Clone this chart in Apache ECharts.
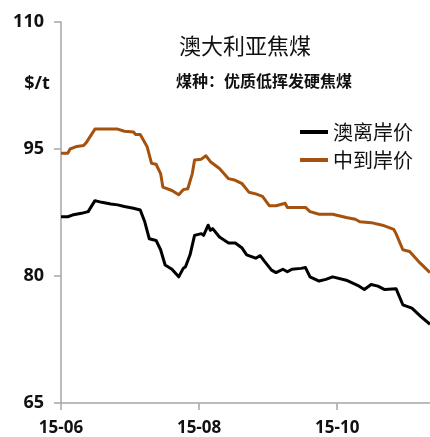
<!DOCTYPE html>
<html><head><meta charset="utf-8">
<script src="https://cdn.jsdelivr.net/npm/echarts@6/dist/echarts.min.js"></script>
<style>html,body{margin:0;padding:0;background:#fff}#c{width:430px;height:437px}</style>
</head><body><div id="c"></div><script>
// 澳离岸价 (FOB Australia), $/t
const fobDates = ['2015-06-01','2015-06-04','2015-06-06','2015-06-10','2015-06-13','2015-06-16','2015-06-19','2015-06-23','2015-06-26','2015-06-29',
  '2015-07-03','2015-07-06','2015-07-08','2015-07-10','2015-07-13','2015-07-15','2015-07-17','2015-07-20','2015-07-23','2015-07-25','2015-07-26','2015-07-28','2015-07-30',
  '2015-08-02','2015-08-03','2015-08-05','2015-08-06','2015-08-07','2015-08-10','2015-08-14','2015-08-17','2015-08-20','2015-08-22','2015-08-26','2015-08-28','2015-08-30',
  '2015-09-02','2015-09-04','2015-09-07','2015-09-09','2015-09-11','2015-09-15','2015-09-17','2015-09-19','2015-09-23','2015-09-26','2015-09-29',
  '2015-10-05','2015-10-10','2015-10-13','2015-10-16','2015-10-19','2015-10-22','2015-10-27','2015-10-30','2015-11-03','2015-11-07','2015-11-11'];
const fobPrices = [87.0,87.0,87.2,87.4,87.6,88.9,88.7,88.5,88.4,88.2,
  88.0,87.8,86.4,84.4,84.2,83.1,81.3,80.8,79.9,80.9,81.1,82.5,84.8,
  85.0,84.8,86.0,85.4,85.6,84.6,83.9,83.9,83.3,82.5,82.1,82.4,81.7,
  80.7,80.4,80.8,80.5,80.8,80.9,81.0,79.9,79.4,79.6,79.9,
  79.5,78.9,78.4,79.0,78.8,78.4,78.5,76.6,76.2,75.2,74.3];
// 中到岸价 (CFR China), $/t
const cfrDates = ['2015-06-01','2015-06-04','2015-06-05','2015-06-08','2015-06-11','2015-06-12','2015-06-16','2015-06-26','2015-06-29',
  '2015-07-03','2015-07-04','2015-07-06','2015-07-09','2015-07-11','2015-07-13','2015-07-15','2015-07-16','2015-07-20','2015-07-23','2015-07-25','2015-07-27','2015-07-29','2015-07-30',
  '2015-08-02','2015-08-04','2015-08-06','2015-08-10','2015-08-14','2015-08-17','2015-08-20','2015-08-23','2015-08-26','2015-08-29',
  '2015-09-01','2015-09-04','2015-09-08','2015-09-09','2015-09-17','2015-09-19','2015-09-23','2015-09-29',
  '2015-10-05','2015-10-09','2015-10-11','2015-10-16','2015-10-21','2015-10-26','2015-10-27','2015-10-30','2015-11-02','2015-11-06','2015-11-11'];
const cfrPrices = [94.5,94.5,95.0,95.3,95.4,95.7,97.35,97.35,97.1,
  97.0,96.7,96.7,95.3,93.3,93.2,92.1,90.5,90.1,89.6,90.2,90.3,92.1,93.7,
  93.8,94.2,93.5,92.7,91.5,91.3,90.9,89.9,89.7,89.4,
  88.3,88.3,88.6,88.1,88.1,87.6,87.3,87.3,
  86.9,86.7,86.4,86.3,86.0,85.5,85.0,83.1,82.9,81.7,80.4];
const yTicks = [65, 80, 95, 110];
const xTickDates = ['2015-06-01','2015-08-01','2015-10-01'];
const xTickLabels = ['15-06','15-08','15-10'];
const startDate = '2015-06-01';
const endDate = '2015-11-11';
const seriesNames = ['澳离岸价','中到岸价'];
const titleText = '澳大利亚焦煤';
const subtitleText = '煤种：优质低挥发硬焦煤';
const unitText = '$/t';

function dayOf(s){ return Math.round((Date.parse(s+'T00:00:00Z') - Date.parse(startDate+'T00:00:00Z'))/86400000); }
const xTicks = xTickDates.map(dayOf);
const chart = echarts.init(document.getElementById('c'), null, {renderer:'canvas'});
const numFont = '"Open Sans"';
const axisCol = '#a6a6a6';
chart.setOption({
  backgroundColor:'#fff',
  animation:false,
  grid:{left:61, right:0, top:22, bottom:34, containLabel:false},
  graphic:[
    {type:'text', x:245, y:46, style:{text:titleText, font:'normal 22px "Noto Sans CJK SC"', fill:'#111', align:'center', verticalAlign:'middle'}},
    {type:'text', x:264, y:81, style:{text:subtitleText, font:'bold 16px "Noto Sans CJK SC"', fill:'#111', align:'center', verticalAlign:'middle'}},
    {type:'text', x:37, y:84, style:{text:unitText, font:'bold 18px "Open Sans"', fill:'#111', align:'center', verticalAlign:'middle'}}
  ],
  legend:{
    orient:'vertical', left:295, top:117, itemGap:8, itemWidth:28, itemHeight:4, icon:'rect',
    textStyle:{fontFamily:'Noto Sans CJK SC', fontSize:20, color:'#111', padding:[0,0,0,0]},
    data:seriesNames
  },
  xAxis:{
    type:'value', min:0, max:dayOf(endDate),
    axisLine:{lineStyle:{color:axisCol, width:1.5}},
    axisTick:{show:true, length:7, lineStyle:{color:axisCol, width:1.5}, customValues:xTicks},
    axisLabel:{customValues:xTicks, margin:17, fontFamily:'Open Sans', fontWeight:'bold', fontSize:17, color:'#111',
      formatter:function(v){ const i = xTicks.indexOf(Math.round(v)); return i>=0 ? xTickLabels[i] : ''; }},
    splitLine:{show:false}
  },
  yAxis:{
    type:'value', min:yTicks[0], max:yTicks[yTicks.length-1],
    axisLine:{show:true, lineStyle:{color:axisCol, width:1.5}},
    axisTick:{show:true, length:7, lineStyle:{color:axisCol, width:1.5}, customValues:yTicks},
    axisLabel:{customValues:yTicks, margin:17, fontFamily:'Open Sans', fontWeight:'bold', fontSize:18, color:'#111'},
    splitLine:{show:false}
  },
  series:[
    {name:seriesNames[0], type:'line', showSymbol:false, symbol:'none', color:'#000',
     lineStyle:{color:'#000', width:3, join:'round'},
     data:fobDates.map((d,i)=>[dayOf(d), fobPrices[i]])},
    {name:seriesNames[1], type:'line', showSymbol:false, symbol:'none', color:'#A5520E',
     lineStyle:{color:'#A5520E', width:3, join:'round'},
     data:cfrDates.map((d,i)=>[dayOf(d), cfrPrices[i]])}
  ]
});
</script></body></html>
